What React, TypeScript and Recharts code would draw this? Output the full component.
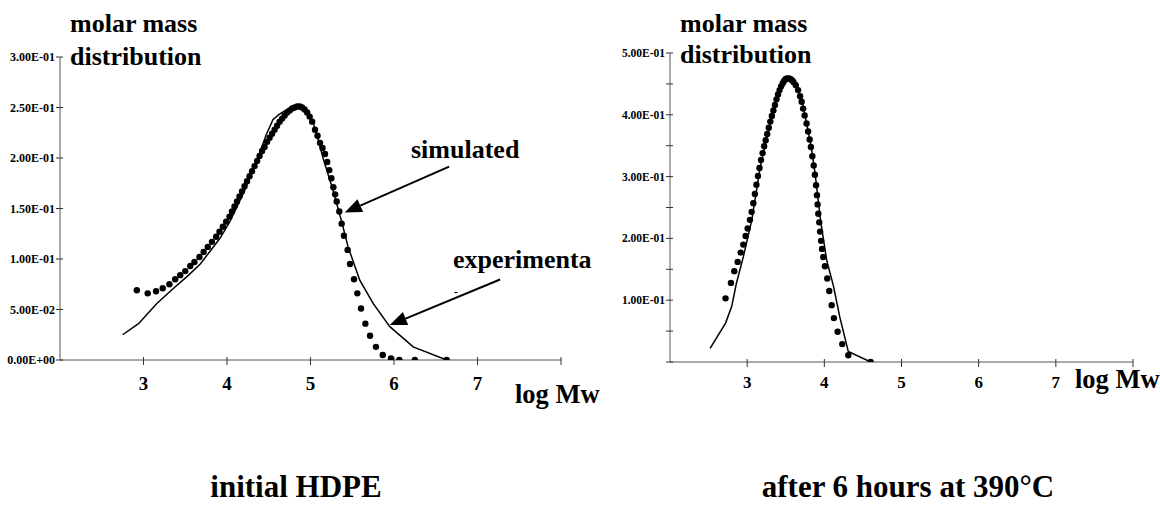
import React from "react";
import {
  ScatterChart,
  Scatter,
  XAxis,
  YAxis,
  ReferenceLine,
} from "recharts";

// log Mw vs molar mass distribution
const leftSimulated: [number, number][] = [
  [2.92, 0.069], [3.05, 0.066], [3.15, 0.068], [3.23, 0.071], [3.31, 0.075],
  [3.38, 0.08], [3.44, 0.084], [3.5, 0.088], [3.56, 0.093], [3.61, 0.097],
  [3.67, 0.102], [3.72, 0.107], [3.77, 0.112], [3.82, 0.117], [3.87, 0.122],
  [3.91, 0.127], [3.95, 0.132], [3.99, 0.137], [4.03, 0.142], [4.06, 0.147],
  [4.09, 0.152], [4.12, 0.157], [4.15, 0.162], [4.18, 0.167], [4.21, 0.172],
  [4.24, 0.177], [4.27, 0.182], [4.3, 0.187], [4.33, 0.192], [4.36, 0.197],
  [4.39, 0.202], [4.42, 0.207], [4.45, 0.211], [4.48, 0.216], [4.51, 0.22],
  [4.54, 0.224], [4.57, 0.228], [4.6, 0.232], [4.63, 0.236], [4.66, 0.239],
  [4.69, 0.242], [4.72, 0.245], [4.75, 0.247], [4.78, 0.249], [4.81, 0.25],
  [4.84, 0.251], [4.87, 0.251], [4.9, 0.25], [4.93, 0.248], [4.96, 0.245],
  [4.99, 0.241], [5.02, 0.236], [5.054, 0.228], [5.084, 0.222], [5.114, 0.215],
  [5.144, 0.21], [5.174, 0.204], [5.2, 0.196], [5.225, 0.188], [5.25, 0.18],
  [5.274, 0.171], [5.295, 0.164], [5.314, 0.157], [5.345, 0.147], [5.373, 0.135],
  [5.4, 0.123], [5.445, 0.109], [5.473, 0.095], [5.521, 0.08], [5.561, 0.066],
  [5.605, 0.051], [5.657, 0.036], [5.713, 0.024], [5.784, 0.013], [5.865, 0.005],
  [5.964, 0.0016], [6.064, 0], [6.25, 0], [6.63, 0],
];

const leftExperimental: [number, number][] = [
  [2.75, 0.025], [2.94, 0.036], [3.16, 0.056], [3.36, 0.071], [3.54, 0.084],
  [3.68, 0.095], [3.8, 0.108], [3.92, 0.121], [4.04, 0.138], [4.2, 0.166],
  [4.35, 0.196], [4.47, 0.223], [4.55, 0.238], [4.62, 0.243], [4.7, 0.247],
  [4.8, 0.251], [4.88, 0.251], [4.95, 0.247], [5.02, 0.238], [5.08, 0.222],
  [5.15, 0.2], [5.27, 0.168], [5.37, 0.138], [5.45, 0.112], [5.59, 0.079],
  [5.75, 0.056], [5.95, 0.033], [6.23, 0.013], [6.63, 0],
];

const rightSimulated: [number, number][] = [
  [2.72, 0.103], [2.79, 0.128], [2.833, 0.147], [2.877, 0.162], [2.916, 0.177],
  [2.95, 0.19], [2.98, 0.204], [3.006, 0.216], [3.036, 0.23], [3.058, 0.243],
  [3.08, 0.257], [3.1, 0.272], [3.12, 0.287], [3.14, 0.301], [3.16, 0.314],
  [3.18, 0.327], [3.2, 0.338], [3.22, 0.349], [3.24, 0.359], [3.26, 0.369],
  [3.28, 0.379], [3.3, 0.389], [3.32, 0.398], [3.34, 0.407], [3.36, 0.416],
  [3.38, 0.425], [3.4, 0.433], [3.42, 0.44], [3.44, 0.446], [3.46, 0.451],
  [3.48, 0.455], [3.5, 0.458], [3.52, 0.459], [3.54, 0.459], [3.56, 0.458],
  [3.58, 0.456], [3.6, 0.453], [3.63, 0.448], [3.66, 0.44], [3.686, 0.43],
  [3.706, 0.421], [3.725, 0.41], [3.745, 0.399], [3.77, 0.386], [3.79, 0.373],
  [3.81, 0.36], [3.826, 0.348], [3.845, 0.333], [3.862, 0.318], [3.878, 0.303],
  [3.893, 0.286], [3.905, 0.27], [3.913, 0.255], [3.922, 0.24], [3.934, 0.226],
  [3.945, 0.211], [3.958, 0.196], [3.97, 0.183], [3.986, 0.17], [4.008, 0.155],
  [4.038, 0.135], [4.064, 0.115], [4.095, 0.092], [4.124, 0.071], [4.172, 0.049],
  [4.232, 0.029], [4.31, 0.011], [4.6, 0],
];

const rightExperimental: [number, number][] = [
  [2.52, 0.022], [2.72, 0.063], [2.8, 0.09], [2.86, 0.127], [2.95, 0.17],
  [3.06, 0.23], [3.17, 0.316], [3.25, 0.36], [3.32, 0.398], [3.38, 0.43],
  [3.45, 0.449], [3.53, 0.459], [3.62, 0.451], [3.71, 0.424], [3.77, 0.386],
  [3.83, 0.348], [3.88, 0.305], [3.95, 0.23], [4.03, 0.165], [4.12, 0.122],
  [4.2, 0.073], [4.31, 0.017], [4.6, 0],
];

const xTicks = [3, 4, 5, 6, 7, 8];
const xLabels = ["3", "4", "5", "6", "7", ""];
const leftYTicks = [0, 0.05, 0.1, 0.15, 0.2, 0.25, 0.3];
const rightYTicks = [0, 0.05, 0.1, 0.15, 0.2, 0.25, 0.3, 0.35, 0.4, 0.45, 0.5];

const toPts = (arr: [number, number][]) => arr.map(([x, y]) => ({ x, y }));

const FONT = "'Liberation Serif', 'Times New Roman', serif";

const sci = (v: number) => {
  if (v === 0) return "0.00E+00";
  const e = Math.floor(Math.log10(v) + 1e-9);
  const m = v / Math.pow(10, e);
  return m.toFixed(2) + "E" + (e < 0 ? "-" : "+") + String(Math.abs(e)).padStart(2, "0");
};

const Dot = (p: any) => <circle cx={p.cx} cy={p.cy} r={3.2} fill="#000" />;
const NoDot = () => <g />;

const Arrow = (p: any) => {
  const { x1, y1, x2, y2 } = p;
  const dx = x2 - x1;
  const dy = y2 - y1;
  const len = Math.sqrt(dx * dx + dy * dy);
  const ux = dx / len;
  const uy = dy / len;
  const hl = 17;
  const hw = 7;
  const bx = x2 - ux * hl;
  const by = y2 - uy * hl;
  return (
    <g>
      <line x1={x1} y1={y1} x2={bx} y2={by} stroke="#000" strokeWidth={2} />
      <polygon
        points={`${x2},${y2} ${bx - uy * hw},${by + ux * hw} ${bx + uy * hw},${by - ux * hw}`}
        fill="#000"
      />
    </g>
  );
};

const makeYTick = (showLabel: (v: number) => boolean, size: number) => (p: any) => {
  const v = p.payload.value;
  return (
    <g>
      <line x1={p.x - 4} y1={p.y} x2={p.x + 3} y2={p.y} stroke="#333" strokeWidth={1} />
      {showLabel(v) && (
        <text
          x={p.x - 5}
          y={p.y + 4}
          textAnchor="end"
          fontFamily={FONT}
          fontWeight="bold"
          fontSize={size}
          fill="#000"
        >
          {sci(v)}
        </text>
      )}
    </g>
  );
};

const makeXTick = (size: number, dy: number) => (p: any) => {
  const i = xTicks.indexOf(p.payload.value);
  return (
    <g>
      <line x1={p.x} y1={p.y - 3} x2={p.x} y2={p.y + 5} stroke="#333" strokeWidth={1} />
      <text
        x={p.x}
        y={p.y + dy}
        textAnchor="middle"
        fontFamily={FONT}
        fontWeight="bold"
        fontSize={size}
        fill="#000"
      >
        {i >= 0 ? xLabels[i] : ""}
      </text>
    </g>
  );
};

const txt = (x: number, y: number, s: string, size: number, anchor: string = "start") => (
  <text
    x={x}
    y={y}
    fontFamily={FONT}
    fontWeight="bold"
    fontSize={size}
    textAnchor={anchor as any}
    fill="#000"
  >
    {s}
  </text>
);

export default function App() {
  return (
    <div
      style={{
        position: "absolute",
        left: 0,
        top: 0,
        width: 1160,
        height: 505,
        background: "#fff",
        overflow: "hidden",
      }}
    >
      <div style={{ position: "absolute", left: 0, top: 0 }}>
        <ScatterChart
          width={600}
          height={430}
          margin={{ top: 57, right: 39, left: 0, bottom: 30 }}
        >
          <XAxis
            type="number"
            dataKey="x"
            domain={[2, 8]}
            ticks={xTicks}
            allowDataOverflow
            height={40}
            tickSize={0}
            tickMargin={0}
            tick={makeXTick(19, 30)}
            axisLine={{ stroke: "#555" }}
            tickLine={false}
          />
          <YAxis
            type="number"
            dataKey="y"
            domain={[0, 0.3]}
            ticks={leftYTicks}
            allowDataOverflow
            width={60}
            tickSize={0}
            tickMargin={0}
            tick={makeYTick(() => true, 12)}
            axisLine={{ stroke: "#555" }}
            tickLine={false}
          />
          <Scatter
            data={toPts(leftExperimental)}
            line={{ stroke: "#000", strokeWidth: 1.5 }}
            lineJointType="linear"
            shape={NoDot}
            isAnimationActive={false}
          />
          <Scatter data={toPts(leftSimulated)} shape={Dot} isAnimationActive={false} />
          <ReferenceLine
            segment={[{ x: 6.66, y: 0.1915 }, { x: 5.41, y: 0.146 }]}
            shape={Arrow}
          />
          <ReferenceLine
            segment={[{ x: 7.27, y: 0.0797 }, { x: 5.95, y: 0.0346 }]}
            shape={Arrow}
          />
        </ScatterChart>
      </div>
      <div style={{ position: "absolute", left: 600, top: 0 }}>
        <ScatterChart
          width={560}
          height={430}
          margin={{ top: 53, right: 27, left: 0, bottom: 28 }}
        >
          <XAxis
            type="number"
            dataKey="x"
            domain={[2, 8]}
            ticks={xTicks}
            allowDataOverflow
            height={40}
            tickSize={0}
            tickMargin={0}
            tick={makeXTick(17, 26)}
            axisLine={{ stroke: "#555" }}
            tickLine={false}
          />
          <YAxis
            type="number"
            dataKey="y"
            domain={[0, 0.5]}
            ticks={rightYTicks}
            allowDataOverflow
            width={70}
            tickSize={0}
            tickMargin={0}
            tick={makeYTick(
              (v) => v > 0 && Math.abs(v * 10 - Math.round(v * 10)) < 1e-6,
              11.5
            )}
            axisLine={{ stroke: "#555" }}
            tickLine={false}
          />
          <Scatter
            data={toPts(rightExperimental)}
            line={{ stroke: "#000", strokeWidth: 1.5 }}
            lineJointType="linear"
            shape={NoDot}
            isAnimationActive={false}
          />
          <Scatter data={toPts(rightSimulated)} shape={Dot} isAnimationActive={false} />
        </ScatterChart>
      </div>
      <svg
        width={1160}
        height={505}
        style={{ position: "absolute", left: 0, top: 0, pointerEvents: "none" }}
      >
        {txt(70, 32, "molar mass", 26)}
        {txt(70, 65, "distribution", 26)}
        {txt(680, 32, "molar mass", 26)}
        {txt(680, 63, "distribution", 26)}
        {txt(411, 158, "simulated", 26)}
        {txt(453, 268, "experimenta", 26)}
        {txt(454, 296, "-", 12)}
        {txt(515, 403, "log Mw", 26.5)}
        {txt(1075, 388, "log Mw", 26.5)}
        {txt(296, 497, "initial HDPE", 31, "middle")}
        {txt(908, 497, "after 6 hours at 390°C", 31, "middle")}
      </svg>
    </div>
  );
}
